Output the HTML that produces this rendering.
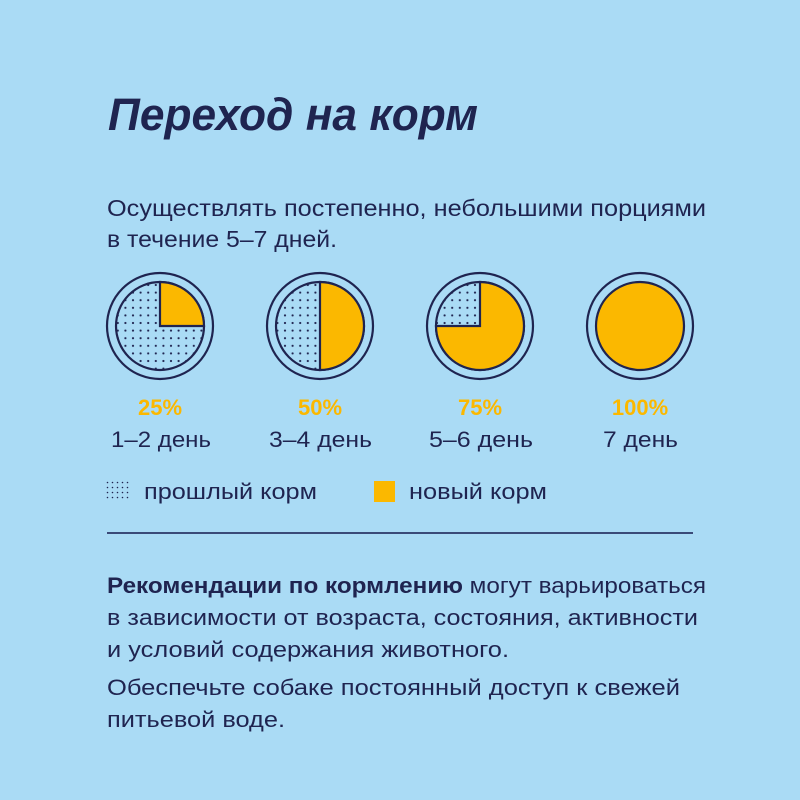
<!DOCTYPE html>
<html><head><meta charset="utf-8"><style>
html,body{margin:0;padding:0;background:#aadbf5;}
svg{display:block}
text{font-family:"Liberation Sans","DejaVu Sans",sans-serif;fill:#1f2450;}
</style></head><body>
<svg width="800" height="800" viewBox="0 0 800 800" xmlns="http://www.w3.org/2000/svg">
<defs>
<pattern id="dots" x="0" y="0" width="7.6" height="7.6" patternUnits="userSpaceOnUse">
<circle cx="3.8" cy="3.8" r="1.1" fill="#1f2450"/>
</pattern>
<pattern id="dots2" x="106" y="481" width="5" height="5" patternUnits="userSpaceOnUse">
<circle cx="1.5" cy="1.5" r="0.8" fill="#1f2450"/>
</pattern>
</defs>
<rect width="800" height="800" fill="#aadbf5"/>
<text x="108" y="130" font-size="45" font-weight="bold" font-style="italic" textLength="370" lengthAdjust="spacingAndGlyphs">Переход на корм</text>
<text x="107" y="216" font-size="23" textLength="599" lengthAdjust="spacingAndGlyphs">Осуществлять постепенно, небольшими порциями</text>
<text x="107" y="247" font-size="23" textLength="230" lengthAdjust="spacingAndGlyphs">в течение 5–7 дней.</text>

<g stroke="#1f2450" stroke-width="2.2">
<circle cx="160" cy="326" r="53" fill="none"/>
<circle cx="160" cy="326" r="44" fill="url(#dots)"/>
<path d="M160 326 L160 282 A44 44 0 0 1 204 326 Z" fill="#fbb800"/>
<circle cx="320" cy="326" r="53" fill="none"/>
<circle cx="320" cy="326" r="44" fill="url(#dots)"/>
<path d="M320 282 A44 44 0 0 1 320 370 Z" fill="#fbb800"/>
<circle cx="480" cy="326" r="53" fill="none"/>
<circle cx="480" cy="326" r="44" fill="url(#dots)"/>
<path d="M480 326 L480 282 A44 44 0 1 1 436 326 Z" fill="#fbb800"/>
<circle cx="640" cy="326" r="53" fill="none"/>
<circle cx="640" cy="326" r="44" fill="#fbb800"/>
</g>

<g font-size="22" font-weight="bold" text-anchor="middle">
<text x="160" y="415" style="fill:#fbb800">25%</text>
<text x="320" y="415" style="fill:#fbb800">50%</text>
<text x="480" y="415" style="fill:#fbb800">75%</text>
<text x="640" y="415" style="fill:#fbb800">100%</text>
</g>
<g font-size="22">
<text x="111" y="447" textLength="100" lengthAdjust="spacingAndGlyphs">1–2 день</text>
<text x="269" y="447" textLength="103" lengthAdjust="spacingAndGlyphs">3–4 день</text>
<text x="429" y="447" textLength="104" lengthAdjust="spacingAndGlyphs">5–6 день</text>
<text x="603" y="447" textLength="75" lengthAdjust="spacingAndGlyphs">7 день</text>
</g>

<rect x="106" y="481" width="25" height="20" fill="url(#dots2)"/>
<text x="144" y="499" font-size="22" textLength="173" lengthAdjust="spacingAndGlyphs">прошлый корм</text>
<rect x="374" y="481" width="21" height="21" fill="#fbb800"/>
<text x="409" y="499" font-size="22" textLength="138" lengthAdjust="spacingAndGlyphs">новый корм</text>

<rect x="107" y="532" width="586" height="2" fill="#3a4a78"/>

<g font-size="22">
<text x="107" y="593" textLength="599" lengthAdjust="spacingAndGlyphs"><tspan font-weight="bold">Рекомендации по кормлению</tspan> могут варьироваться</text>
<text x="107" y="625" textLength="591" lengthAdjust="spacingAndGlyphs">в зависимости от возраста, состояния, активности</text>
<text x="107" y="657" textLength="402" lengthAdjust="spacingAndGlyphs">и условий содержания животного.</text>
<text x="107" y="695" textLength="573" lengthAdjust="spacingAndGlyphs">Обеспечьте собаке постоянный доступ к свежей</text>
<text x="107" y="727" textLength="178" lengthAdjust="spacingAndGlyphs">питьевой воде.</text>
</g>
</svg>
</body></html>
